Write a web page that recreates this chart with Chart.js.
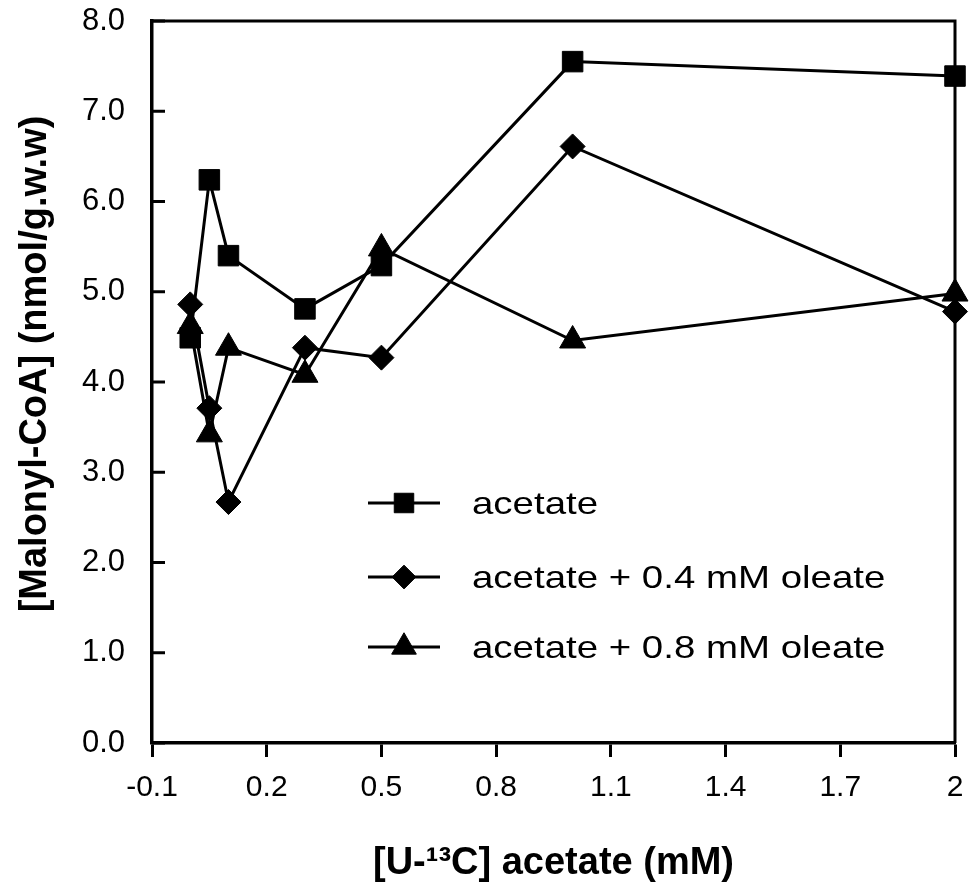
<!DOCTYPE html>
<html>
<head>
<meta charset="utf-8">
<title>Malonyl-CoA vs [U-13C] acetate</title>
<script src="https://cdn.jsdelivr.net/npm/chart.js@4.4.1/dist/chart.umd.min.js"></script>
<style>
  html, body { margin: 0; padding: 0; background: #fff; }
  #wrap { width: 972px; height: 886px; }
</style>
</head>
<body>
<div id="wrap"><canvas id="malonylChart" width="972" height="886"></canvas></div>
<script>
// --- Data ---
const acetateConc = [0, 0.05, 0.1, 0.3, 0.5, 1.0, 2.0];          // mM
const acetateOnly = [4.49, 6.24, 5.40, 4.81, 5.29, 7.55, 7.39];   // nmol/g.w.w
const acetateOleate04 = [4.86, 3.71, 2.67, 4.38, 4.27, 6.61, 4.78];
const acetateOleate08 = [4.62, 3.42, 4.38, 4.08, 5.48, 4.46, 4.98];

const seriesLabels = ['acetate', 'acetate + 0.4 mM oleate', 'acetate + 0.8 mM oleate'];

const xTickValues = [-0.1, 0.2, 0.5, 0.8, 1.1, 1.4, 1.7, 2.0];
const xTickLabels = ['-0.1', '0.2', '0.5', '0.8', '1.1', '1.4', '1.7', '2'];
const yTickValues = [0, 1, 2, 3, 4, 5, 6, 7, 8];
const yTickLabels = ['0.0', '1.0', '2.0', '3.0', '4.0', '5.0', '6.0', '7.0', '8.0'];

const yTitle = '[Malonyl-CoA] (nmol/g.w.w)';
const xTitle = '[U-\u00B9\u00B3C] acetate (mM)';

const FONT = '"Liberation Sans", Arial, Helvetica, sans-serif';

// legend placement inside the plot (pixels)
const LEG = { x0: 368, x1: 440, mark: 404, textX: 472, rows: [503, 577, 647], stretch: 1.26 };

function toPoints(ys) {
    return acetateConc.map((x, i) => ({ x: x, y: ys[i] }));
}

function series(label, ys, style, radius) {
    return {
        label: label,
        data: toPoints(ys),
        borderColor: '#000',
        backgroundColor: '#000',
        borderWidth: 3,
        pointStyle: style,
        pointRadius: radius,
        pointHoverRadius: radius,
        pointBackgroundColor: '#000',
        pointBorderColor: '#000',
        pointBorderWidth: 1,
        fill: false,
        tension: 0,
        clip: false
    };
}

// --- Box on top/right, inward y ticks, y title ---
const frameAndTicks = {
    id: 'frameAndTicks',
    beforeDatasetsDraw(chart) {
        const { ctx, chartArea: a, scales: { y } } = chart;
        ctx.save();
        ctx.strokeStyle = '#000';
        ctx.lineWidth = 3;
        ctx.lineJoin = 'miter';
        ctx.beginPath();
        ctx.moveTo(a.left, a.top);
        ctx.lineTo(a.right, a.top);
        ctx.lineTo(a.right, a.bottom);
        ctx.stroke();
        yTickValues.forEach(v => {
            const py = y.getPixelForValue(v);
            ctx.beginPath();
            ctx.moveTo(a.left, py);
            ctx.lineTo(a.left + 13, py);
            ctx.stroke();
        });

        // y title sits a bit above the axis middle in the original
        ctx.translate(36, (a.top + a.bottom) / 2 - 18);
        ctx.rotate(-Math.PI / 2);
        ctx.fillStyle = '#000';
        ctx.font = 'bold 38px ' + FONT;
        ctx.textAlign = 'center';
        ctx.textBaseline = 'middle';
        ctx.fillText(yTitle, 0, 0);
        ctx.restore();
    }
};

// --- Legend drawn inside the plot area ---
const insideLegend = {
    id: 'insideLegend',
    afterDatasetsDraw(chart) {
        const ctx = chart.ctx;
        ctx.save();
        chart.data.datasets.forEach((ds, i) => {
            const y = LEG.rows[i];
            ctx.strokeStyle = '#000';
            ctx.fillStyle = '#000';
            ctx.lineWidth = 3;
            ctx.beginPath();
            ctx.moveTo(LEG.x0, y);
            ctx.lineTo(LEG.x1, y);
            ctx.stroke();

            ctx.lineWidth = 1;
            Chart.helpers.drawPoint(ctx, {
                pointStyle: ds.pointStyle,
                radius: ds.pointRadius * 0.95,
                rotation: 0,
                borderWidth: 1
            }, LEG.mark, y);

            ctx.save();
            ctx.translate(LEG.textX, y + 2.5);
            ctx.scale(LEG.stretch, 1);
            ctx.font = '30.5px ' + FONT;
            ctx.textBaseline = 'middle';
            ctx.textAlign = 'left';
            ctx.fillText(ds.label, 0, 0);
            ctx.restore();
        });
        ctx.restore();
    }
};

const ctx = document.getElementById('malonylChart').getContext('2d');

new Chart(ctx, {
    type: 'line',
    data: {
        datasets: [
            series(seriesLabels[0], acetateOnly, 'rect', 14.5),
            series(seriesLabels[1], acetateOleate04, 'rectRot', 12.5),
            series(seriesLabels[2], acetateOleate08, 'triangle', 15)
        ]
    },
    options: {
        responsive: false,
        animation: false,
        events: [],
        layout: { padding: { top: 21, right: 17, bottom: 0, left: 0 } },
        plugins: {
            legend: { display: false },
            tooltip: { enabled: false }
        },
        scales: {
            x: {
                type: 'linear',
                min: -0.1,
                max: 2.0,
                afterBuildTicks: s => { s.ticks = xTickValues.map(v => ({ value: v })); },
                afterFit: s => {
                    s.height = 143;
                    s.paddingLeft = 0;
                    s.paddingRight = 0;
                },
                ticks: {
                    callback: (v, i) => xTickLabels[i],
                    color: '#000',
                    font: { family: FONT, size: 30 },
                    padding: 13,
                    maxRotation: 0,
                    autoSkip: false
                },
                grid: {
                    drawOnChartArea: false,
                    drawTicks: true,
                    tickLength: 14,
                    tickWidth: 3,
                    tickColor: '#000'
                },
                border: { display: true, color: '#000', width: 3.5 },
                title: {
                    display: true,
                    text: xTitle,
                    color: '#000',
                    font: { family: FONT, size: 38, weight: 'bold' },
                    padding: { top: 0, bottom: 0 }
                }
            },
            y: {
                type: 'linear',
                min: 0,
                max: 8,
                afterBuildTicks: s => { s.ticks = yTickValues.map(v => ({ value: v })); },
                afterFit: s => {
                    s.width = 152;
                    s.paddingTop = 0;
                    s.paddingBottom = 0;
                },
                ticks: {
                    callback: (v, i) => yTickLabels[i],
                    color: '#000',
                    font: { family: FONT, size: 31 },
                    padding: 27
                },
                grid: { drawOnChartArea: false, drawTicks: false },
                border: { display: true, color: '#000', width: 3.5 },
                title: { display: false }
            }
        }
    },
    plugins: [frameAndTicks, insideLegend]
});
</script>
</body>
</html>
